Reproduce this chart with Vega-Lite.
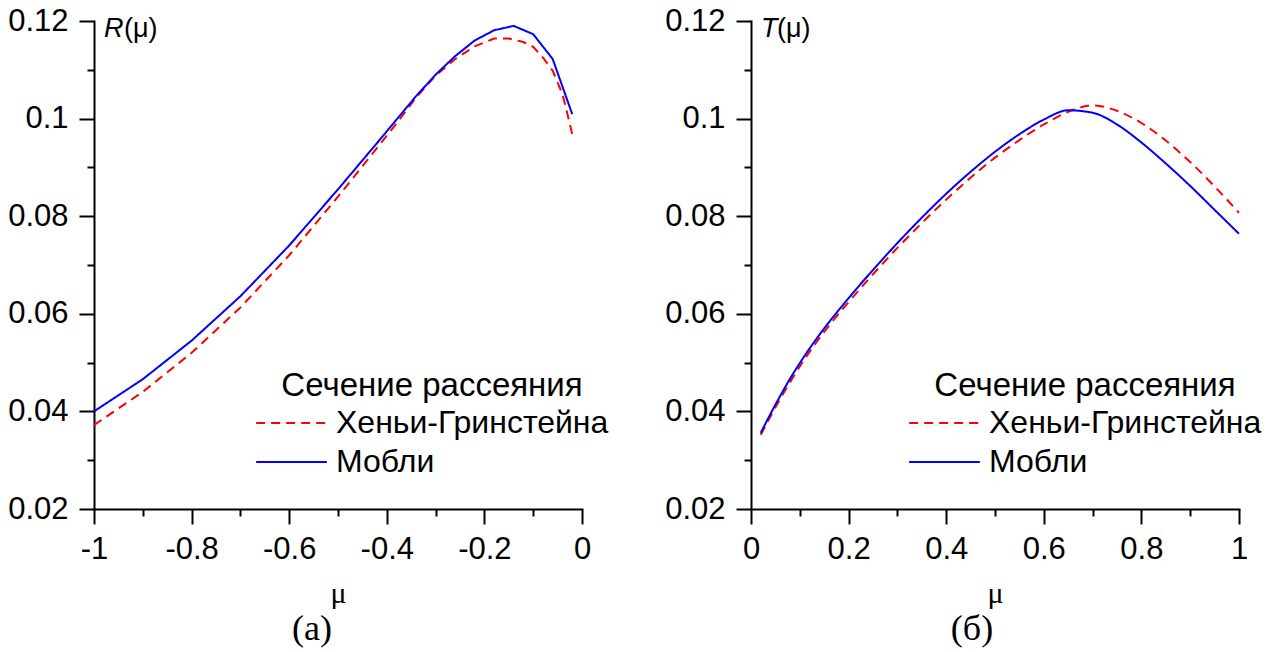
{
  "$schema": "https://vega.github.io/schema/vega-lite/v6.json",
  "padding": {"left": 7, "top": 5, "right": 5, "bottom": 5},
  "bounds": "flush",
  "spacing": 169,
  "resolve": {
    "scale": {"color": "independent", "strokeDash": "independent"},
    "legend": {"color": "independent", "strokeDash": "independent"}
  },
  "datasets": {
    "R": [
      {"mu": -1.00, "val": 0.0372, "s": "Хеньи-Гринстейна"},
      {"mu": -0.90, "val": 0.0440, "s": "Хеньи-Гринстейна"},
      {"mu": -0.80, "val": 0.0520, "s": "Хеньи-Гринстейна"},
      {"mu": -0.70, "val": 0.0613, "s": "Хеньи-Гринстейна"},
      {"mu": -0.60, "val": 0.0720, "s": "Хеньи-Гринстейна"},
      {"mu": -0.50, "val": 0.0840, "s": "Хеньи-Гринстейна"},
      {"mu": -0.42, "val": 0.0940, "s": "Хеньи-Гринстейна"},
      {"mu": -0.38, "val": 0.0990, "s": "Хеньи-Гринстейна"},
      {"mu": -0.34, "val": 0.1043, "s": "Хеньи-Гринстейна"},
      {"mu": -0.30, "val": 0.1088, "s": "Хеньи-Гринстейна"},
      {"mu": -0.26, "val": 0.1122, "s": "Хеньи-Гринстейна"},
      {"mu": -0.22, "val": 0.1148, "s": "Хеньи-Гринстейна"},
      {"mu": -0.18, "val": 0.1164, "s": "Хеньи-Гринстейна"},
      {"mu": -0.15, "val": 0.1164, "s": "Хеньи-Гринстейна"},
      {"mu": -0.12, "val": 0.1157, "s": "Хеньи-Гринстейна"},
      {"mu": -0.10, "val": 0.1147, "s": "Хеньи-Гринстейна"},
      {"mu": -0.08, "val": 0.1125, "s": "Хеньи-Гринстейна"},
      {"mu": -0.06, "val": 0.1098, "s": "Хеньи-Гринстейна"},
      {"mu": -0.04, "val": 0.1050, "s": "Хеньи-Гринстейна"},
      {"mu": -0.03, "val": 0.1010, "s": "Хеньи-Гринстейна"},
      {"mu": -0.02, "val": 0.0968, "s": "Хеньи-Гринстейна"},
      {"mu": -1.00, "val": 0.0400, "s": "Мобли"},
      {"mu": -0.90, "val": 0.0466, "s": "Мобли"},
      {"mu": -0.80, "val": 0.0545, "s": "Мобли"},
      {"mu": -0.70, "val": 0.0636, "s": "Мобли"},
      {"mu": -0.60, "val": 0.0740, "s": "Мобли"},
      {"mu": -0.50, "val": 0.0855, "s": "Мобли"},
      {"mu": -0.42, "val": 0.0950, "s": "Мобли"},
      {"mu": -0.38, "val": 0.0998, "s": "Мобли"},
      {"mu": -0.34, "val": 0.1046, "s": "Мобли"},
      {"mu": -0.30, "val": 0.1090, "s": "Мобли"},
      {"mu": -0.26, "val": 0.1128, "s": "Мобли"},
      {"mu": -0.22, "val": 0.1160, "s": "Мобли"},
      {"mu": -0.18, "val": 0.1181, "s": "Мобли"},
      {"mu": -0.14, "val": 0.1190, "s": "Мобли"},
      {"mu": -0.10, "val": 0.1173, "s": "Мобли"},
      {"mu": -0.06, "val": 0.1122, "s": "Мобли"},
      {"mu": -0.02, "val": 0.1009, "s": "Мобли"}
    ],
    "T": [
      {"mu": 0.02, "val": 0.0352, "s": "Хеньи-Гринстейна"},
      {"mu": 0.04, "val": 0.0390, "s": "Хеньи-Гринстейна"},
      {"mu": 0.06, "val": 0.0426, "s": "Хеньи-Гринстейна"},
      {"mu": 0.08, "val": 0.0460, "s": "Хеньи-Гринстейна"},
      {"mu": 0.10, "val": 0.0492, "s": "Хеньи-Гринстейна"},
      {"mu": 0.125, "val": 0.0529, "s": "Хеньи-Гринстейна"},
      {"mu": 0.15, "val": 0.0563, "s": "Хеньи-Гринстейна"},
      {"mu": 0.20, "val": 0.0624, "s": "Хеньи-Гринстейна"},
      {"mu": 0.25, "val": 0.0681, "s": "Хеньи-Гринстейна"},
      {"mu": 0.30, "val": 0.0735, "s": "Хеньи-Гринстейна"},
      {"mu": 0.35, "val": 0.0786, "s": "Хеньи-Гринстейна"},
      {"mu": 0.40, "val": 0.0834, "s": "Хеньи-Гринстейна"},
      {"mu": 0.45, "val": 0.0879, "s": "Хеньи-Гринстейна"},
      {"mu": 0.50, "val": 0.0920, "s": "Хеньи-Гринстейна"},
      {"mu": 0.55, "val": 0.0956, "s": "Хеньи-Гринстейна"},
      {"mu": 0.60, "val": 0.0988, "s": "Хеньи-Гринстейна"},
      {"mu": 0.65, "val": 0.1014, "s": "Хеньи-Гринстейна"},
      {"mu": 0.70, "val": 0.1027, "s": "Хеньи-Гринстейна"},
      {"mu": 0.75, "val": 0.1016, "s": "Хеньи-Гринстейна"},
      {"mu": 0.80, "val": 0.0991, "s": "Хеньи-Гринстейна"},
      {"mu": 0.85, "val": 0.0955, "s": "Хеньи-Гринстейна"},
      {"mu": 0.90, "val": 0.0911, "s": "Хеньи-Гринстейна"},
      {"mu": 0.95, "val": 0.0861, "s": "Хеньи-Гринстейна"},
      {"mu": 1.00, "val": 0.0807, "s": "Хеньи-Гринстейна"},
      {"mu": 0.02, "val": 0.0356, "s": "Мобли"},
      {"mu": 0.04, "val": 0.0395, "s": "Мобли"},
      {"mu": 0.06, "val": 0.0432, "s": "Мобли"},
      {"mu": 0.08, "val": 0.0467, "s": "Мобли"},
      {"mu": 0.10, "val": 0.0499, "s": "Мобли"},
      {"mu": 0.125, "val": 0.0536, "s": "Мобли"},
      {"mu": 0.15, "val": 0.0570, "s": "Мобли"},
      {"mu": 0.20, "val": 0.0632, "s": "Мобли"},
      {"mu": 0.25, "val": 0.0690, "s": "Мобли"},
      {"mu": 0.30, "val": 0.0745, "s": "Мобли"},
      {"mu": 0.35, "val": 0.0797, "s": "Мобли"},
      {"mu": 0.40, "val": 0.0846, "s": "Мобли"},
      {"mu": 0.45, "val": 0.0891, "s": "Мобли"},
      {"mu": 0.50, "val": 0.0932, "s": "Мобли"},
      {"mu": 0.55, "val": 0.0968, "s": "Мобли"},
      {"mu": 0.60, "val": 0.0998, "s": "Мобли"},
      {"mu": 0.65, "val": 0.1017, "s": "Мобли"},
      {"mu": 0.70, "val": 0.1012, "s": "Мобли"},
      {"mu": 0.75, "val": 0.0988, "s": "Мобли"},
      {"mu": 0.80, "val": 0.0951, "s": "Мобли"},
      {"mu": 0.85, "val": 0.0908, "s": "Мобли"},
      {"mu": 0.90, "val": 0.0862, "s": "Мобли"},
      {"mu": 0.95, "val": 0.0813, "s": "Мобли"},
      {"mu": 1.00, "val": 0.0764, "s": "Мобли"}
    ]
  },
  "hconcat": [
    {
      "width": 488,
      "height": 488,
      "title": {"text": "(a)", "orient": "bottom", "dx": -26},
      "layer": [
        {
          "data": {"name": "R"},
          "mark": {"type": "line", "strokeWidth": 2},
          "encoding": {
            "x": {"field": "mu", "type": "quantitative", "scale": {"domain": [-1, 0], "nice": false, "zero": false},
                  "axis": {"orient": "bottom", "values": [-1, -0.8, -0.6, -0.4, -0.2, 0], "tickSize": 15, "labelPadding": 10, "format": ".1~f", "title": "μ", "titleFontSize": 30, "titlePadding": 14}},
            "y": {"field": "val", "type": "quantitative", "scale": {"domain": [0.02, 0.12], "nice": false, "zero": false},
                  "axis": {"orient": "left", "values": [0.02, 0.04, 0.06, 0.08, 0.1, 0.12], "tickSize": 15, "labelPadding": 11, "format": ".2~f", "title": null}},
            "color": {"field": "s", "type": "nominal", "scale": {"domain": ["Хеньи-Гринстейна", "Мобли"], "range": ["#ff0000", "#0000ff"]},
                      "legend": {"title": "Сечение рассеяния", "orient": "none", "legendX": 161, "legendY": 349}},
            "strokeDash": {"field": "s", "type": "nominal", "scale": {"domain": ["Хеньи-Гринстейна", "Мобли"], "range": [[9, 6], [1, 0]]},
                      "legend": {"title": "Сечение рассеяния", "orient": "none", "legendX": 161, "legendY": 349}}
          }
        },
        {
          "data": {"name": "R"},
          "mark": {"type": "point", "opacity": 0},
          "encoding": {
            "x": {"field": "mu", "type": "quantitative",
                  "axis": {"orient": "bottom", "values": [-0.9, -0.7, -0.5, -0.3, -0.1], "tickSize": 7, "labels": false, "domain": false, "title": null}},
            "y": {"field": "val", "type": "quantitative",
                  "axis": {"orient": "left", "values": [0.03, 0.05, 0.07, 0.09, 0.11], "tickSize": 7, "labels": false, "domain": false, "title": null}}
          }
        },
        {
          "data": {"values": [{}]},
          "mark": {"type": "text", "text": "R", "fontStyle": "italic", "font": "Liberation Sans", "fontSize": 27, "align": "left", "baseline": "alphabetic", "dx": 10, "dy": 16},
          "encoding": {"x": {"datum": -1, "type": "quantitative", "axis": null}, "y": {"datum": 0.12, "type": "quantitative", "axis": null}}
        },
        {
          "data": {"values": [{}]},
          "mark": {"type": "text", "text": "(μ)", "font": "Liberation Sans", "fontSize": 27, "align": "left", "baseline": "alphabetic", "dx": 30, "dy": 16},
          "encoding": {"x": {"datum": -1, "type": "quantitative", "axis": null}, "y": {"datum": 0.12, "type": "quantitative", "axis": null}}
        }
      ],
      "resolve": {"axis": {"x": "independent", "y": "independent"}}
    },
    {
      "width": 488,
      "height": 488,
      "title": {"text": "(б)", "orient": "bottom", "dx": -23},
      "layer": [
        {
          "data": {"name": "T"},
          "mark": {"type": "line", "strokeWidth": 2, "interpolate": "monotone"},
          "encoding": {
            "x": {"field": "mu", "type": "quantitative", "scale": {"domain": [0, 1], "nice": false, "zero": false},
                  "axis": {"orient": "bottom", "values": [0, 0.2, 0.4, 0.6, 0.8, 1], "tickSize": 15, "labelPadding": 10, "format": ".1~f", "title": "μ", "titleFontSize": 30, "titlePadding": 14}},
            "y": {"field": "val", "type": "quantitative", "scale": {"domain": [0.02, 0.12], "nice": false, "zero": false},
                  "axis": {"orient": "left", "values": [0.02, 0.04, 0.06, 0.08, 0.1, 0.12], "tickSize": 15, "labelPadding": 11, "format": ".2~f", "title": null}},
            "color": {"field": "s", "type": "nominal", "scale": {"domain": ["Хеньи-Гринстейна", "Мобли"], "range": ["#ff0000", "#0000ff"]},
                      "legend": {"title": "Сечение рассеяния", "orient": "none", "legendX": 157, "legendY": 349}},
            "strokeDash": {"field": "s", "type": "nominal", "scale": {"domain": ["Хеньи-Гринстейна", "Мобли"], "range": [[9, 6], [1, 0]]},
                      "legend": {"title": "Сечение рассеяния", "orient": "none", "legendX": 157, "legendY": 349}}
          }
        },
        {
          "data": {"name": "T"},
          "mark": {"type": "point", "opacity": 0},
          "encoding": {
            "x": {"field": "mu", "type": "quantitative",
                  "axis": {"orient": "bottom", "values": [0.1, 0.3, 0.5, 0.7, 0.9], "tickSize": 7, "labels": false, "domain": false, "title": null}},
            "y": {"field": "val", "type": "quantitative",
                  "axis": {"orient": "left", "values": [0.03, 0.05, 0.07, 0.09, 0.11], "tickSize": 7, "labels": false, "domain": false, "title": null}}
          }
        },
        {
          "data": {"values": [{}]},
          "mark": {"type": "text", "text": "T", "fontStyle": "italic", "font": "Liberation Sans", "fontSize": 27, "align": "left", "baseline": "alphabetic", "dx": 10, "dy": 16},
          "encoding": {"x": {"datum": 0, "type": "quantitative", "axis": null}, "y": {"datum": 0.12, "type": "quantitative", "axis": null}}
        },
        {
          "data": {"values": [{}]},
          "mark": {"type": "text", "text": "(μ)", "font": "Liberation Sans", "fontSize": 27, "align": "left", "baseline": "alphabetic", "dx": 26, "dy": 16},
          "encoding": {"x": {"datum": 0, "type": "quantitative", "axis": null}, "y": {"datum": 0.12, "type": "quantitative", "axis": null}}
        }
      ],
      "resolve": {"axis": {"x": "independent", "y": "independent"}}
    }
  ],
  "config": {
    "locale": {"number": {"decimal": ".", "thousands": ",", "grouping": [3], "currency": ["", ""], "minus": "-"}},
    "view": {"stroke": null},
    "axis": {
      "grid": false,
      "domainColor": "black", "domainWidth": 2, "domainCap": "square",
      "tickColor": "black", "tickWidth": 2,
      "labelColor": "black", "labelFont": "Liberation Sans", "labelFontSize": 31, "labelFlush": false, "labelOverlap": false,
      "titleColor": "black", "titleFont": "Liberation Serif", "titleFontWeight": "normal"
    },
    "legend": {
      "symbolType": "stroke", "symbolSize": 5000, "symbolStrokeWidth": 2, "clipHeight": 30,
      "labelFont": "Liberation Sans", "labelFontSize": 32, "labelColor": "black", "labelOffset": 8, "labelLimit": 0,
      "titleFont": "Liberation Sans", "titleFontSize": 33, "titleFontWeight": "normal", "titleColor": "black", "titleAnchor": "middle", "titleLimit": 0,
      "rowPadding": 7, "titlePadding": 5
    },
    "title": {"font": "Liberation Serif", "fontSize": 36, "fontWeight": "normal", "color": "black", "anchor": "middle", "offset": 4}
  }
}
